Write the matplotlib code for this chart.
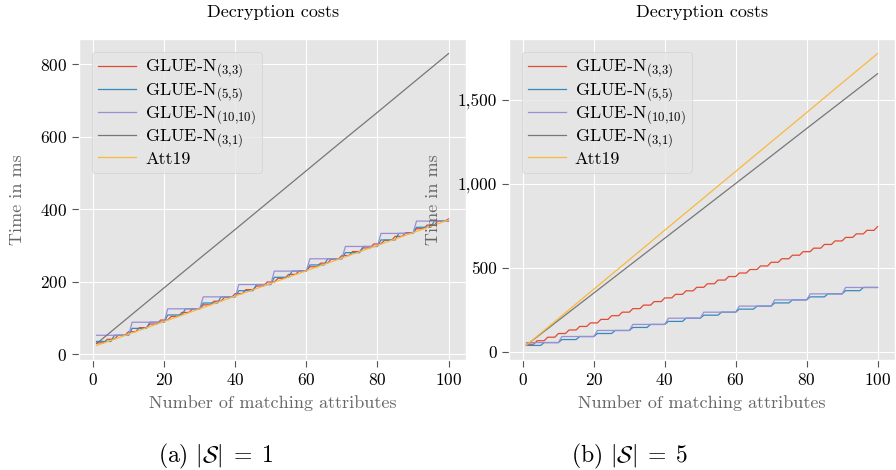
import numpy as np
import matplotlib
matplotlib.use("Agg")
import matplotlib.pyplot as plt
from matplotlib.ticker import FuncFormatter

plt.style.use("ggplot")
plt.rcParams["font.family"] = "serif"
plt.rcParams["font.serif"] = ["cmr10", "DejaVu Serif"]
plt.rcParams["mathtext.fontset"] = "cm"
plt.rcParams["axes.formatter.use_mathtext"] = True

n_attr = np.arange(1, 101)
x_lin = [1, 10, 20, 30, 40, 50, 60, 70, 80, 90, 100]

# |S| = 1
att19_a = [25, 56, 91, 126, 161, 196, 231, 266, 301, 336, 371]
glue31_a = [30, 103, 184, 265, 345, 426, 507, 588, 668, 749, 830]
glue33_a = [32, 42, 53, 63, 74, 84, 95, 105, 116, 126, 137, 147, 158, 168, 179, 189, 200,
            210, 221, 231, 242, 252, 263, 273, 284, 294, 305, 315, 326, 336, 347, 357, 368, 374]
glue55_a = [36, 53, 72, 89, 109, 126, 142, 159, 176, 193, 213, 230, 247, 264, 281, 298,
            316, 334, 351, 368]
glue1010_a = [53, 89, 126, 159, 193, 230, 264, 298, 334, 368]

# |S| = 5
att19_b = [40, 198, 373, 548, 724, 899, 1074, 1249, 1424, 1600, 1775]
glue31_b = [40, 187, 350, 513, 676, 839, 1002, 1165, 1329, 1492, 1655]
glue33_b = [45, 66, 87, 109, 130, 151, 172, 193, 215, 236, 257, 278, 299, 321, 342, 363, 384,
            405, 427, 448, 469, 490, 511, 533, 554, 575, 596, 617, 639, 660, 681, 702, 723, 745]
glue55_b = [38, 55, 73, 91, 109, 127, 145, 163, 181, 200, 218, 236, 254, 272, 291, 309,
            327, 345, 364, 383]
glue1010_b = [55, 91, 127, 163, 200, 236, 272, 309, 345, 383]

labels = ["GLUE-N$_{(3{,}3)}$", "GLUE-N$_{(5{,}5)}$", "GLUE-N$_{(10{,}10)}$",
          "GLUE-N$_{(3{,}1)}$", "Att19"]


def steps(levels, k):
    return np.repeat(levels, k)[:100]


def panel(ax, g33, g55, g1010, g31, att):
    lw = 0.9
    ax.plot(n_attr, steps(g33, 3), lw=lw, label=labels[0])
    ax.plot(n_attr, steps(g55, 5), lw=lw, label=labels[1])
    ax.plot(n_attr, steps(g1010, 10), lw=lw, label=labels[2])
    ax.plot(x_lin, g31, lw=lw, label=labels[3])
    ax.plot(x_lin, att, lw=lw, color="#F9B840", label=labels[4])
    ax.set_title("Decryption costs", fontsize=13, color="black", pad=16)
    ax.set_xlabel("Number of matching attributes", fontsize=13, color="#666666", labelpad=5)
    ax.set_ylabel("Time in ms", fontsize=13, color="#666666")
    ax.tick_params(labelsize=12.5, labelcolor="black", color="#555555", length=5)
    ax.set_xticks([0, 20, 40, 60, 80, 100])
    ax.legend(loc="upper left", fontsize=13, handlelength=2.1, labelspacing=0.05,
              borderpad=0.35, borderaxespad=0.7, handletextpad=0.5, framealpha=0.8,
              edgecolor="#CCCCCC", facecolor="#E5E5E5")


fig = plt.figure(figsize=(8.96, 4.70), dpi=100)
ax1 = fig.add_axes([0.0882, 0.234, 0.432, 0.683])
ax2 = fig.add_axes([0.568, 0.234, 0.431, 0.683])

panel(ax1, glue33_a, glue55_a, glue1010_a, glue31_a, att19_a)
panel(ax2, glue33_b, glue55_b, glue1010_b, glue31_b, att19_b)
ax1.set_yticks([0, 200, 400, 600, 800])
ax2.set_yticks([0, 500, 1000, 1500])
ax2.yaxis.set_major_formatter(FuncFormatter(lambda v, p: f"{int(v):,}"))
ax1.yaxis.set_label_coords(-0.14, 0.5)
ax2.yaxis.set_label_coords(-0.176, 0.5)

fig.text(0.176, 0.015, r"(a) $|\mathcal{S}|\;=\;1$", fontsize=17, va="baseline")
fig.text(0.637, 0.015, r"(b) $|\mathcal{S}|\;=\;5$", fontsize=17, va="baseline")

fig.savefig("out.png", dpi=100)
